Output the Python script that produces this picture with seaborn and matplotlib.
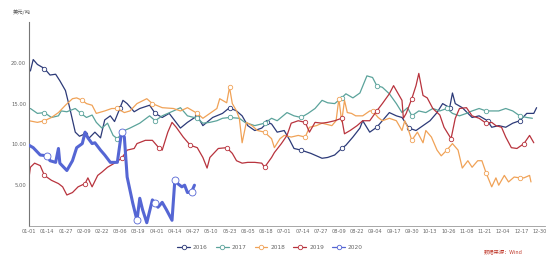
import numpy as np
import pandas as pd
import matplotlib
matplotlib.use("Agg")
import matplotlib.pyplot as plt
from matplotlib.lines import Line2D
import seaborn as sns

# ---------------- data (day of year, 0 = 01-01) ----------------
years = ["2016", "2017", "2018", "2019", "2020"]
colors = ["#2c3a78", "#5ba39b", "#f0a257", "#b8333d", "#5566d4"]

d2016 = [1, 3, 6, 11, 15, 19, 22, 26, 29, 33, 36, 40, 43, 47, 51, 54, 58, 61, 65, 67, 70, 75, 79, 86, 90,
         95, 100, 108, 113, 120, 124, 131, 138, 143, 148, 152, 156, 161, 166, 170, 173, 177, 182, 186, 189,
         194, 201, 209, 213, 218, 223, 226, 231, 236, 238, 243, 248, 252, 257, 262, 266, 271, 276, 281, 286,
         291, 295, 300, 302, 304, 309, 316, 321, 327, 330, 335, 340, 345, 350, 355, 360, 362]
v2016 = [19.0, 20.4, 19.8, 19.3, 18.5, 18.6, 17.8, 16.6, 14.5, 11.5, 11.0, 11.3, 10.8, 11.5, 10.8, 13.0, 13.5,
         12.8, 14.5, 15.4, 15.0, 14.0, 14.4, 14.8, 13.8, 13.3, 13.8, 12.0, 12.7, 13.5, 12.3, 13.3, 13.8, 14.5,
         14.1, 13.5, 12.3, 11.7, 12.0, 12.7, 12.5, 11.5, 11.7, 10.5, 9.5, 9.3, 8.9, 8.3, 8.4, 8.7, 9.5, 9.9,
         10.9, 12.0, 12.9, 11.5, 12.1, 12.9, 13.9, 13.5, 13.3, 12.0, 11.7, 12.3, 12.9, 13.9, 15.0, 14.5, 16.3,
         15.0, 14.5, 13.3, 13.5, 12.9, 12.1, 12.3, 12.1, 12.6, 12.9, 13.8, 13.8, 14.5]

d2017 = [1, 6, 11, 16, 21, 23, 27, 33, 37, 41, 45, 48, 52, 56, 60, 63, 68, 72, 79, 86, 90, 95, 103, 108, 113,
         120, 124, 129, 134, 138, 143, 150, 154, 161, 168, 173, 177, 184, 189, 194, 199, 204, 209, 213, 218,
         223, 226, 231, 236, 241, 245, 248, 252, 257, 262, 266, 270, 273, 278, 283, 288, 293, 298, 302, 307,
         312, 316, 321, 326, 330, 335, 340, 345, 350, 355, 359]
v2017 = [14.4, 13.8, 13.9, 13.3, 13.5, 14.1, 14.0, 14.4, 13.8, 13.3, 13.6, 12.7, 12.0, 12.6, 11.1, 10.7, 11.7,
         12.0, 12.6, 13.5, 12.9, 13.5, 14.1, 14.5, 13.5, 13.2, 12.6, 12.7, 12.9, 13.2, 13.3, 13.2, 12.7, 12.3,
         12.6, 13.2, 12.9, 13.9, 13.5, 13.3, 13.8, 14.4, 15.4, 15.1, 15.0, 15.7, 16.2, 15.7, 16.3, 18.4, 18.2,
         17.2, 17.0, 16.2, 15.0, 13.9, 14.5, 13.5, 14.1, 13.9, 14.4, 14.1, 14.4, 13.8, 13.5, 13.8, 14.1, 14.4,
         14.1, 14.1, 14.1, 14.4, 14.1, 13.5, 13.3, 13.2]

d2018 = [0, 6, 11, 16, 21, 26, 31, 34, 38, 41, 45, 48, 54, 59, 63, 68, 72, 77, 84, 88, 95, 103, 108, 113, 120,
         124, 129, 134, 136, 141, 143, 145, 148, 150, 152, 155, 159, 163, 168, 173, 175, 179, 182, 187, 192,
         197, 200, 205, 209, 216, 219, 221, 223, 225, 227, 230, 233, 238, 243, 245, 249, 252, 257, 262, 266,
         268, 270, 273, 277, 281, 283, 287, 291, 294, 298, 302, 306, 309, 313, 316, 320, 323, 326, 330, 333,
         335, 339, 342, 346, 350, 353, 357, 358]
v2018 = [12.9, 12.7, 12.9, 13.3, 13.9, 14.8, 15.6, 15.7, 15.4, 15.0, 14.8, 13.8, 14.1, 14.4, 14.4, 13.9, 14.1,
         15.0, 15.6, 15.0, 14.5, 14.4, 14.1, 14.5, 13.8, 13.2, 13.8, 14.4, 15.6, 15.1, 17.0, 15.0, 14.1, 13.2,
         10.2, 12.7, 12.3, 11.7, 11.5, 10.7, 9.6, 10.7, 11.1, 10.9, 11.1, 10.9, 12.1, 12.3, 12.6, 12.3, 12.9,
         15.6, 12.8, 15.4, 13.9, 13.8, 13.5, 13.5, 14.1, 14.1, 13.3, 12.9, 13.2, 12.9, 11.7, 12.9, 12.1, 10.5,
         11.5, 10.2, 11.7, 10.9, 9.3, 8.6, 9.3, 10.1, 9.3, 7.1, 8.0, 7.2, 8.0, 8.0, 6.5, 4.8, 5.9, 5.0, 6.2,
         5.4, 6.0, 5.9, 5.9, 6.2, 5.4]

d2019 = [0, 1, 4, 8, 11, 16, 21, 24, 27, 31, 35, 40, 42, 45, 49, 52, 56, 61, 66, 70, 75, 77, 83, 88, 93, 95,
         99, 102, 105, 110, 115, 120, 124, 127, 129, 135, 141, 145, 148, 152, 156, 161, 166, 168, 173, 175,
         180, 184, 187, 192, 197, 200, 204, 209, 213, 218, 223, 225, 229, 234, 238, 243, 248, 252, 257, 260,
         263, 266, 267, 269, 273, 276, 278, 281, 284, 288, 293, 296, 301, 304, 307, 312, 316, 321, 326, 330,
         333, 337, 340, 344, 348, 353, 357, 360]
v2019 = [5.9, 7.2, 7.7, 7.4, 6.2, 5.6, 5.2, 4.8, 3.8, 4.1, 4.8, 5.2, 5.9, 4.8, 6.2, 6.6, 7.2, 7.7, 8.3, 9.3,
         9.5, 10.1, 10.5, 10.5, 9.5, 9.3, 11.5, 12.7, 12.1, 10.9, 9.9, 9.6, 8.4, 7.1, 8.4, 9.5, 9.6, 8.9, 8.0,
         7.7, 7.8, 7.8, 7.7, 7.2, 8.4, 9.0, 10.1, 11.1, 12.6, 12.9, 12.7, 11.5, 12.7, 12.6, 12.7, 12.9, 13.2,
         11.3, 11.7, 12.3, 12.9, 12.9, 14.1, 15.0, 16.2, 17.2, 16.3, 15.4, 13.2, 13.8, 15.6, 17.2, 18.7, 16.0,
         15.7, 14.4, 13.6, 12.1, 10.7, 13.2, 14.4, 14.5, 13.5, 13.2, 12.6, 12.7, 12.3, 12.1, 10.9, 9.6, 9.5,
         10.1, 11.1, 10.2]

d2020 = [0, 3, 8, 13, 15, 19, 21, 22, 27, 31, 34, 38, 40, 42, 45, 47, 51, 54, 58, 63, 66, 68, 70, 74, 77, 79,
         81, 84, 88, 90, 92, 95, 98, 102, 104, 106, 109, 111, 113, 116, 118]
v2020 = [9.9, 9.6, 8.7, 8.6, 8.0, 7.8, 9.5, 7.7, 6.8, 8.0, 9.6, 10.1, 11.5, 10.8, 10.1, 10.2, 9.3, 8.7, 7.8,
         7.8, 11.5, 10.9, 6.0, 2.8, 0.7, 3.4, 2.0, 0.4, 3.2, 2.8, 2.3, 2.9, 2.0, 0.7, 5.6, 5.2, 4.8, 5.0, 4.1,
         4.2, 5.0]

tick_days = list(range(0, 365, 13))
tick_labels = ["01-01", "01-14", "01-27", "02-09", "02-22", "03-06", "03-19", "04-01", "04-14", "04-27",
               "05-10", "05-23", "06-05", "06-18", "07-01", "07-14", "07-27", "08-09", "08-22", "09-04",
               "09-17", "09-30", "10-13", "10-26", "11-08", "11-21", "12-04", "12-17", "12-30"]
y_ticks = [5, 10, 15, 20]
y_unit = "美元/吨"
source_text = "数据来源：Wind"

series = {"2016": (d2016, v2016), "2017": (d2017, v2017), "2018": (d2018, v2018),
          "2019": (d2019, v2019), "2020": (d2020, v2020)}
df = pd.concat([pd.DataFrame({"day": d, "value": v, "year": y}) for y, (d, v) in series.items()],
               ignore_index=True)

# ---------------- plot ----------------
sns.set_theme(style="white")
plt.rcParams["font.family"] = ["DejaVu Sans", "Noto Sans CJK SC"]

fig = plt.figure(figsize=(5.5, 2.61), dpi=100)
ax = fig.add_axes([29 / 550, 35 / 261, 516 / 550, 204 / 261])

sns.lineplot(data=df, x="day", y="value", hue="year", hue_order=years,
             palette=dict(zip(years, colors)), estimator=None, errorbar=None,
             legend=False, ax=ax, linewidth=0.9)

for line, y, c in zip(ax.lines, years, colors):
    d = np.array(series[y][0])
    idx = sorted({int(np.argmin(np.abs(d - t))) for t in tick_days if t <= d.max() + 2})
    if y == "2020":
        line.set_linewidth(2.2)
        line.set_zorder(5)
        idx = [i for i in idx if d[i] != 0 and not (20 < d[i] < 60)]
        line.set_marker("o"); line.set_markersize(5.0)
    else:
        idx = idx[1::2]
        line.set_marker("o"); line.set_markersize(3.2)
    line.set_markerfacecolor("white")
    line.set_markeredgecolor(c)
    line.set_markeredgewidth(0.6)
    line.set_markevery(idx)

ax.set_xlim(0, 368)
ax.set_ylim(0, 25)
ax.set_xticks(tick_days)
ax.set_xticklabels(tick_labels, fontsize=3.6, color="#666666")
ax.set_yticks(y_ticks)
ax.set_yticklabels([f"{t:.2f}" for t in y_ticks], fontsize=3.8, color="#666666")
ax.set_xlabel("")
ax.set_ylabel("")
for s in ["top", "right"]:
    ax.spines[s].set_visible(False)
ax.spines["left"].set_color("#777777")
ax.spines["left"].set_linewidth(0.8)
ax.spines["bottom"].set_color("#999999")
ax.spines["bottom"].set_linewidth(0.6)
ax.tick_params(axis="x", length=2, width=0.5, color="#999999", pad=2, direction="in")
ax.tick_params(axis="y", length=0, pad=2)
ax.grid(False)

fig.text(22 / 550, 1 - 12 / 261, y_unit, fontsize=3.8, color="#555555",
         ha="center", va="center", family=["Noto Sans CJK SC", "DejaVu Sans"])
fig.text(503 / 550, 1 - 252 / 261, source_text, fontsize=3.8, color="#c0392b",
         ha="center", va="center", style="italic", family=["Noto Sans CJK SC", "DejaVu Sans"])

handles = [Line2D([0], [0], color=c, lw=0.9, marker="o", markersize=3.2,
                  markerfacecolor="white", markeredgecolor=c, markeredgewidth=0.6) for c in colors]
leg = fig.legend(handles, years, loc="center", bbox_to_anchor=(270 / 550, 1 - 247 / 261), ncol=5,
                 frameon=False, fontsize=4.2, handlelength=2.2, handletextpad=0.5, columnspacing=1.4)
for t in leg.get_texts():
    t.set_color("#666666")

fig.savefig("out.png", dpi=100, facecolor="white")
